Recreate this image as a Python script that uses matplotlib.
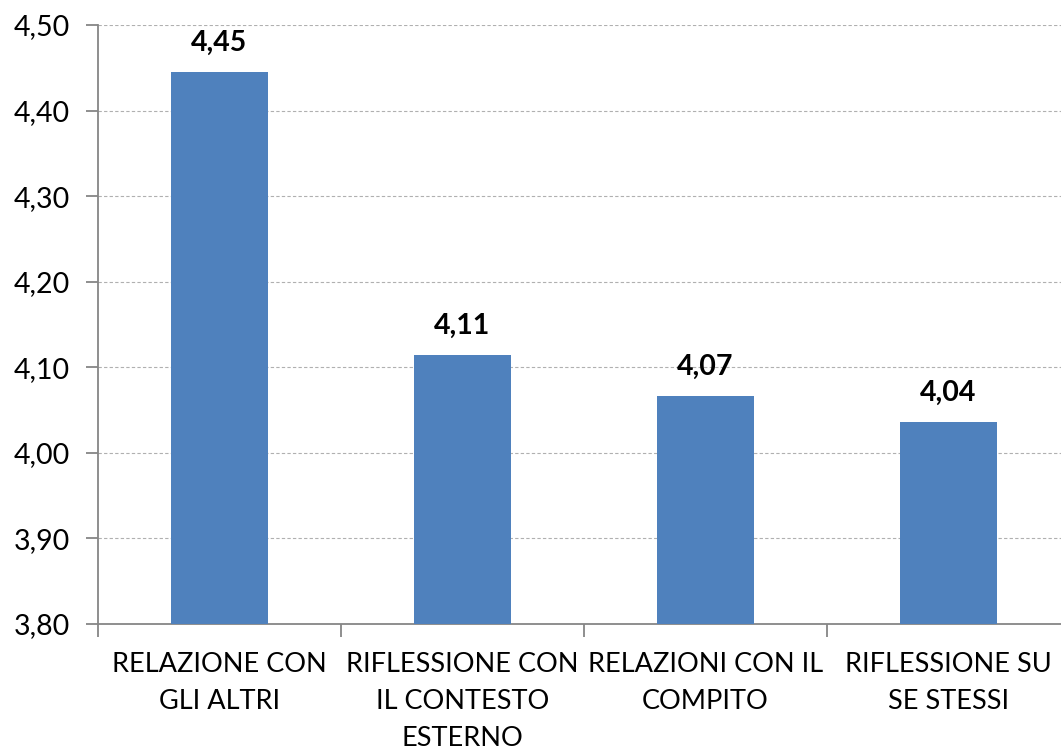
import matplotlib
matplotlib.use("Agg")
import matplotlib.pyplot as plt
from matplotlib.ticker import FuncFormatter

categories = ["RELAZIONE CON\nGLI ALTRI", "RIFLESSIONE CON\nIL CONTESTO\nESTERNO",
              "RELAZIONI CON IL\nCOMPITO", "RIFLESSIONE SU\nSE STESSI"]
values = [4.445, 4.114, 4.066, 4.036]
value_labels = ["4,45", "4,11", "4,07", "4,04"]
yticks = [3.80, 3.90, 4.00, 4.10, 4.20, 4.30, 4.40, 4.50]

plt.rcParams['font.family'] = ['Lato', 'DejaVu Sans']

fig = plt.figure(figsize=(10.61, 7.53), dpi=100)
ax = fig.add_axes([98/1061, (753-624)/753, (1070-98)/1061, (624-25)/753])

x = list(range(len(categories)))
ax.bar(x, values, width=0.4, color="#4f81bd", zorder=3)
ax.set_xlim(-0.5, len(categories) - 0.5)
ax.set_ylim(3.80, 4.50)
ax.set_yticks(yticks)
ax.yaxis.set_major_formatter(FuncFormatter(lambda v, p: f"{v:.2f}".replace(".", ",")))
ax.yaxis.grid(True, color="#b0b0b0", linestyle=(0, (3, 2)), linewidth=0.8, zorder=0)

ax.set_xticks([i - 0.5 for i in range(len(categories) + 1)])
ax.set_xticklabels([])
ax.set_xticks(x, minor=True)
ax.set_xticklabels(categories, minor=True, fontsize=19.5, linespacing=1.6)
ax.tick_params(axis='x', which='minor', length=0, pad=20)
ax.tick_params(axis='x', which='major', length=9, width=1.3, color="#868686", direction='out')
ax.tick_params(axis='y', length=9, width=1.3, color="#868686", labelsize=20.5, pad=11)

for s in ["top", "right"]:
    ax.spines[s].set_visible(False)
for s in ["left", "bottom"]:
    ax.spines[s].set_color("#868686")
    ax.spines[s].set_linewidth(1.3)

for xi, v, lab in zip(x, values, value_labels):
    ax.annotate(lab, (xi, v), xytext=(0, 12), textcoords="offset points",
                ha="center", va="bottom", fontsize=20.5, fontweight="bold")

fig.savefig("out.png", dpi=100)
